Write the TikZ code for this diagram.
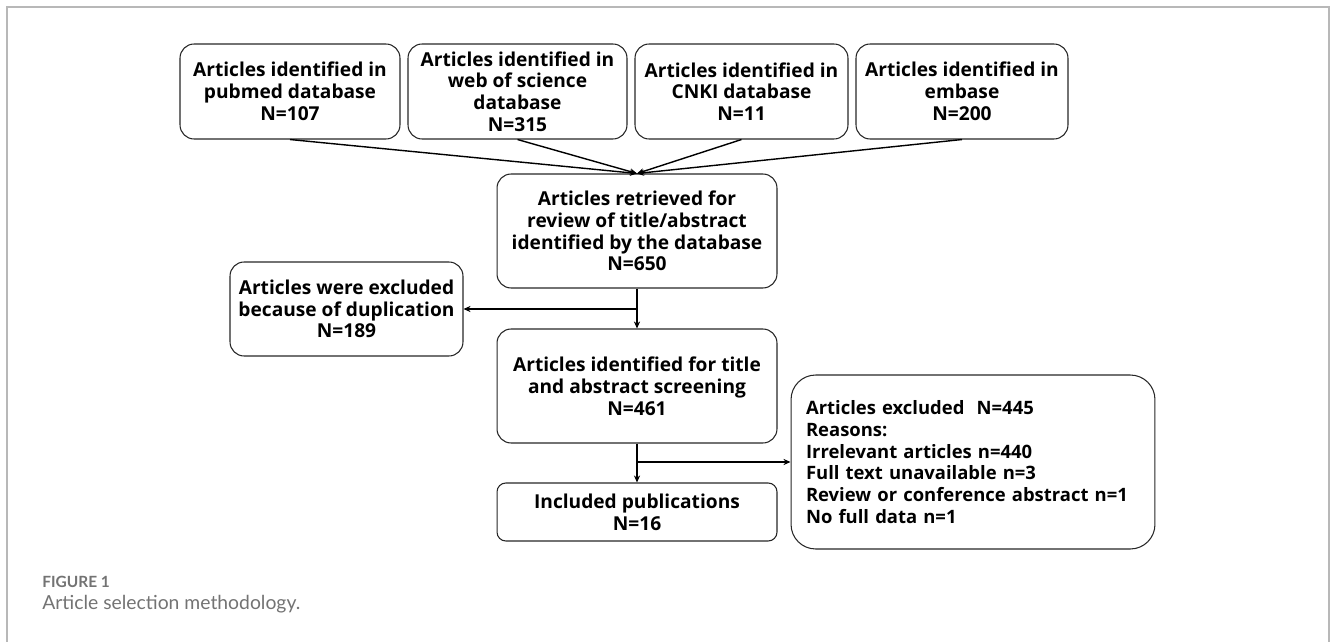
\documentclass[tikz,border=0pt]{standalone}
\usepackage{fontspec}
\setmainfont{Open Sans}
\newfontfamily\capfont{Lato}
\usetikzlibrary{arrows.meta}
\definecolor{framegray}{gray}{0.72}
\definecolor{capgray}{gray}{0.45}

\begin{document}
\begin{tikzpicture}[x=0.02cm, y=-0.02cm,
    box/.style={draw=black!85, line width=0.6pt, rounded corners=8pt, align=center,
      inner sep=0pt, font=\bfseries\fontsize{10.9}{12.4}\selectfont},
    arr/.style={-{Stealth[length=4pt,width=3.5pt]}, line width=0.8pt}]
  \useasboundingbox (0,0) rectangle (1330,642);
  \draw[framegray, line width=1.2pt] (7,642) -- (7,7) -- (1329,7) -- (1329,642); % page frame

  % database searches
  \node[box, minimum width=4.4cm, minimum height=1.9cm] (pubmed) at (290,91.5) {Articles identified in\\pubmed database\\N=107};
  \node[box, minimum width=4.38cm, minimum height=1.9cm] (wos) at (517.5,91.5) {Articles identified in\\web of science\\database\\N=315};
  \node[box, minimum width=4.26cm, minimum height=1.9cm] (cnki) at (741.5,91.5) {Articles identified in\\CNKI database\\N=11};
  \node[box, minimum width=4.24cm, minimum height=1.9cm] (embase) at (962,91.5) {Articles identified in\\embase\\N=200};

  % screening steps
  \node[box, minimum width=5.6cm, minimum height=2.28cm] (retr) at (637,231) {Articles retrieved for\\review of title/abstract\\identified by the database\\N=650};
  \node[box, minimum width=4.66cm, minimum height=1.88cm] (dup) at (346.5,309) {Articles were excluded\\because of duplication\\N=189};
  \node[box, minimum width=5.6cm, minimum height=2.28cm] (screen) at (637,386) {Articles identified for title\\and abstract screening\\N=461};
  \node[box, rounded corners=5pt, minimum width=5.6cm, minimum height=1.16cm] (incl) at (637,512) {Included publications\\N=16};
  \node[box, rounded corners=14pt, align=left, text width=6.68cm, inner xsep=0.3cm, minimum height=3.48cm,
    font=\bfseries\fontsize{10.5}{12.4}\selectfont] (excl) at (973,462)
    {Articles excluded~~N=445\\Reasons:\\Irrelevant articles n=440\\Full text unavailable n=3\\Review or conference abstract n=1\\No full data n=1};

  % connectors
  \draw[arr] (pubmed.south) -- (retr.north);
  \draw[arr] (wos.south) -- (retr.north);
  \draw[arr] (cnki.south) -- (retr.north);
  \draw[arr] (embase.south) -- (retr.north);
  \draw[arr] (retr.south) -- (screen.north);
  \draw[arr] (retr.south |- dup.east) -- (dup.east);
  \draw[arr] (screen.south) -- (incl.north);
  \draw[arr] (screen.south |- excl.west) -- (excl.west);

  % caption
  \node[anchor=west, inner sep=0pt, text=capgray, font=\capfont\bfseries\fontsize{8.8}{10}\selectfont] (fig) at (42,582) {FIGURE 1};
  \node[anchor=west, inner sep=0pt, text=capgray, font=\capfont\fontsize{11}{13}\selectfont] (cap) at (42,604) {Article selection methodology.};
\end{tikzpicture}
\end{document}
